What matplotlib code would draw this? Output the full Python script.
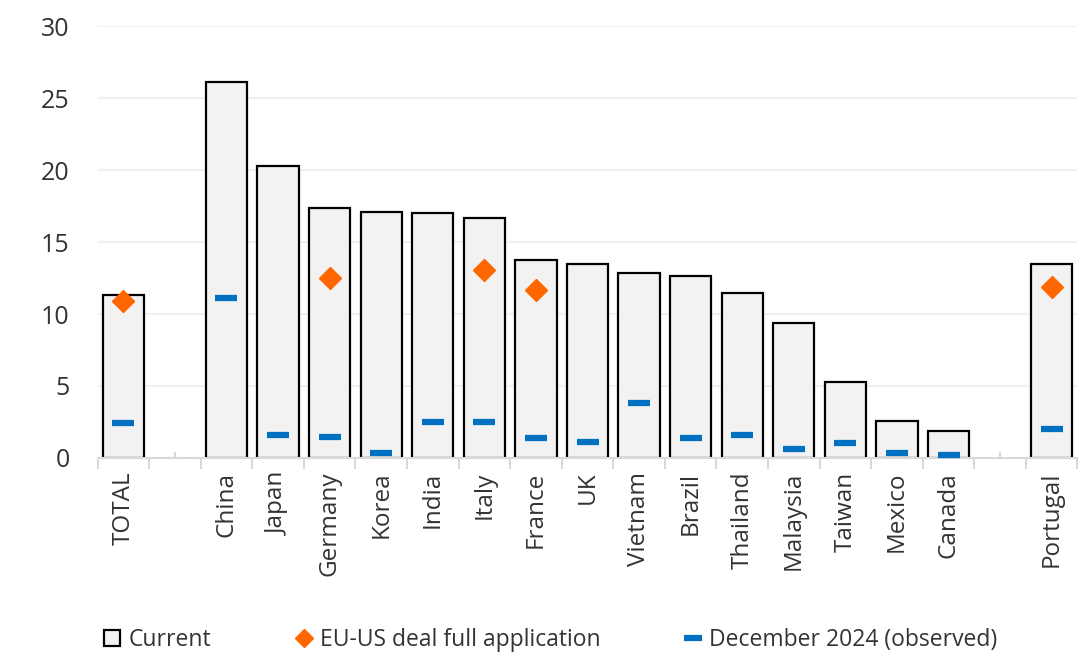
import numpy as np
import matplotlib.pyplot as plt
from matplotlib.ticker import FixedLocator

plt.rcParams['font.family'] = ['Open Sans', 'DejaVu Sans']

# data ('' = empty gap slot)
categories = ['TOTAL', '', 'China', 'Japan', 'Germany', 'Korea', 'India', 'Italy',
              'France', 'UK', 'Vietnam', 'Brazil', 'Thailand', 'Malaysia', 'Taiwan',
              'Mexico', 'Canada', '', 'Portugal']
current = [11.3, np.nan, 26.1, 20.3, 17.4, 17.1, 17.0, 16.7, 13.75, 13.45, 12.85,
           12.65, 11.45, 9.4, 5.3, 2.55, 1.9, np.nan, 13.5]
eu_us_deal = [10.9, np.nan, np.nan, np.nan, 12.5, np.nan, np.nan, 13.05, 11.7, np.nan,
              np.nan, np.nan, np.nan, np.nan, np.nan, np.nan, np.nan, np.nan, 11.9]
dec_2024 = [2.4, np.nan, 11.1, 1.6, 1.45, 0.35, 2.5, 2.5, 1.4, 1.1, 3.8,
            1.4, 1.6, 0.6, 1.05, 0.35, 0.2, np.nan, 2.0]

x = np.arange(len(categories))

fig = plt.figure(figsize=(10.84, 6.56), dpi=100)
ax = fig.add_axes([0.09, 0.302, 0.904, 0.658])

bars = ax.bar(x, current, width=0.8, color='#F2F2F2', edgecolor='black', linewidth=1.6,
              label='Current', zorder=2)
dia, = ax.plot(x, eu_us_deal, linestyle='none', marker='D', markersize=11, color='#FF6600',
               label='EU-US deal full application', zorder=3)
dash, = ax.plot(x, dec_2024, linestyle='none', marker='_', markersize=16, markeredgewidth=4.5,
                color='#0070C0', label='December 2024 (observed)', zorder=3)

ax.set_xlim(-0.5, len(categories) - 0.5)
ax.set_ylim(0, 30)
ax.set_yticks(range(0, 31, 5))
ax.grid(axis='y', color='#F0F0F0', linewidth=1.5, zorder=0)
ax.set_axisbelow(True)

ax.set_xticks(x)
ax.set_xticklabels(categories, rotation=90, fontsize=17.5, color='#333333')
ax.xaxis.set_minor_locator(FixedLocator(np.arange(-0.5, len(categories), 1)))
ax.tick_params(axis='x', which='major', direction='in', length=4, color='#D9D9D9', width=1.5, pad=10)
ax.tick_params(axis='x', which='minor', direction='out', length=8, color='#D9D9D9', width=1.5)
ax.tick_params(axis='y', length=0, labelsize=18, labelcolor='#333333', pad=20)

for s in ['top', 'right', 'left']:
    ax.spines[s].set_visible(False)
ax.spines['bottom'].set_color('#D9D9D9')
ax.spines['bottom'].set_linewidth(1.5)

fig.legend(handles=[bars, dia, dash], loc='center left', bbox_to_anchor=(0.077, 0.024),
           ncol=3, frameon=False, fontsize=16.5, labelcolor='#333333', handlelength=0.7,
           handletextpad=0.35, columnspacing=3.7, markerscale=0.8)

fig.savefig('out.png', dpi=100)
